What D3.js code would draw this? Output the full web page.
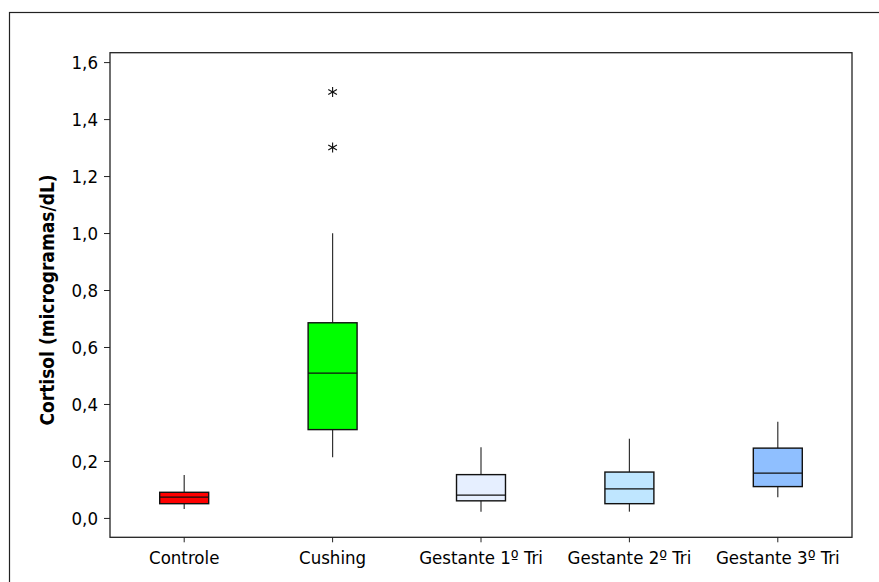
<!DOCTYPE html>
<html lang="pt">
<head>
<meta charset="UTF-8">
<title>Cortisol</title>
<style>
body { margin: 0; background: #fff; }
svg text { font-family: "DejaVu Sans Condensed", "DejaVu Sans", sans-serif; font-stretch: condensed; }
.axis .domain { display: none; }
</style>
</head>
<body>
<svg width="879" height="582"></svg>
<script src="https://d3js.org/d3.v7.min.js"></script>
<script>

var groups = ["Controle", "Cushing", "Gestante 1º Tri", "Gestante 2º Tri", "Gestante 3º Tri"];
var colors = ["#ff0000", "#00ff00", "#e6efff", "#bfe6ff", "#8fbfff"];
var whiskerLow = [0.031, 0.213, 0.022, 0.022, 0.073];
var q1 = [0.050, 0.310, 0.060, 0.050, 0.110];
var median = [0.073, 0.508, 0.080, 0.102, 0.157];
var q3 = [0.090, 0.685, 0.152, 0.161, 0.245];
var whiskerHigh = [0.151, 0.999, 0.248, 0.278, 0.338];
var outliers = [[], [1.30, 1.495], [], [], []];
var yTicks = [0, 0.2, 0.4, 0.6, 0.8, 1.0, 1.2, 1.4, 1.6];

var svg = d3.select("svg"),
    plot = {left: 110, top: 52.7, right: 852, bottom: 537.3};

var data = groups.map(function(g, i) {
  return {name: g, color: colors[i], lo: whiskerLow[i], q1: q1[i], med: median[i],
          q3: q3[i], hi: whiskerHigh[i], out: outliers[i]};
});

var x = d3.scaleBand().domain(groups).range([plot.left, plot.right]).padding(0);
var y = d3.scaleLinear().domain([-0.068, 1.633]).range([plot.bottom, plot.top]);
var boxW = x.bandwidth() * 0.33;

// outer frame
svg.append("rect")
    .attr("x", 9.5).attr("y", 12.5)
    .attr("width", 900).attr("height", 600)
    .attr("fill", "none").attr("stroke", "#222").attr("stroke-width", 1.2);

// plot frame
svg.append("rect")
    .attr("x", plot.left).attr("y", plot.top)
    .attr("width", plot.right - plot.left).attr("height", plot.bottom - plot.top)
    .attr("fill", "none").attr("stroke", "#222").attr("stroke-width", 1.3);

svg.append("g")
    .attr("class", "axis")
    .attr("transform", "translate(" + plot.left + ",0)")
    .call(d3.axisLeft(y).tickValues(yTicks).tickSize(6).tickPadding(6)
      .tickFormat(function(d) { return d3.format(".1f")(d).replace(".", ","); }))
    .call(function(g) {
      g.selectAll("line").attr("stroke", "#222");
      g.selectAll("text").attr("fill", "#000").attr("font-size", 18.5).attr("dy", "0.36em");
    });

svg.append("g")
    .attr("class", "axis")
    .attr("transform", "translate(0," + plot.bottom + ")")
    .call(d3.axisBottom(x).tickSize(5).tickPadding(9))
    .call(function(g) {
      g.selectAll("line").attr("stroke", "#222");
      g.selectAll("text").attr("fill", "#000").attr("font-size", 18.5);
    });

svg.append("text")
    .attr("transform", "translate(47," + ((plot.top + plot.bottom) / 2 + 5) + ") rotate(-90)")
    .attr("text-anchor", "middle")
    .attr("dy", "0.36em")
    .attr("font-size", 19)
    .attr("font-weight", "bold")
    .text("Cortisol (microgramas/dL)");

var box = svg.append("g").selectAll("g")
    .data(data)
    .enter().append("g")
      .attr("transform", function(d) { return "translate(" + (x(d.name) + x.bandwidth() / 2) + ",0)"; });

box.append("line")
    .attr("y1", function(d) { return y(d.hi); })
    .attr("y2", function(d) { return y(d.q3); })
    .attr("stroke", "#333").attr("stroke-width", 1.2);

box.append("line")
    .attr("y1", function(d) { return y(d.q1); })
    .attr("y2", function(d) { return y(d.lo); })
    .attr("stroke", "#333").attr("stroke-width", 1.2);

box.append("rect")
    .attr("x", -boxW / 2)
    .attr("width", boxW)
    .attr("y", function(d) { return y(d.q3); })
    .attr("height", function(d) { return y(d.q1) - y(d.q3); })
    .attr("fill", function(d) { return d.color; })
    .attr("stroke", "#111").attr("stroke-width", 1.4);

box.append("line")
    .attr("x1", -boxW / 2).attr("x2", boxW / 2)
    .attr("y1", function(d) { return y(d.med); })
    .attr("y2", function(d) { return y(d.med); })
    .attr("stroke", "#111").attr("stroke-width", 1.3);

// outliers drawn as asterisks
box.selectAll("path")
    .data(function(d) { return d.out; })
    .enter().append("path")
      .attr("transform", function(v) { return "translate(0," + y(v) + ")"; })
      .attr("d", d3.symbol(d3.symbolAsterisk, 70))
      .attr("fill", "none").attr("stroke", "#111").attr("stroke-width", 1.1);

</script>
</body>
</html>
